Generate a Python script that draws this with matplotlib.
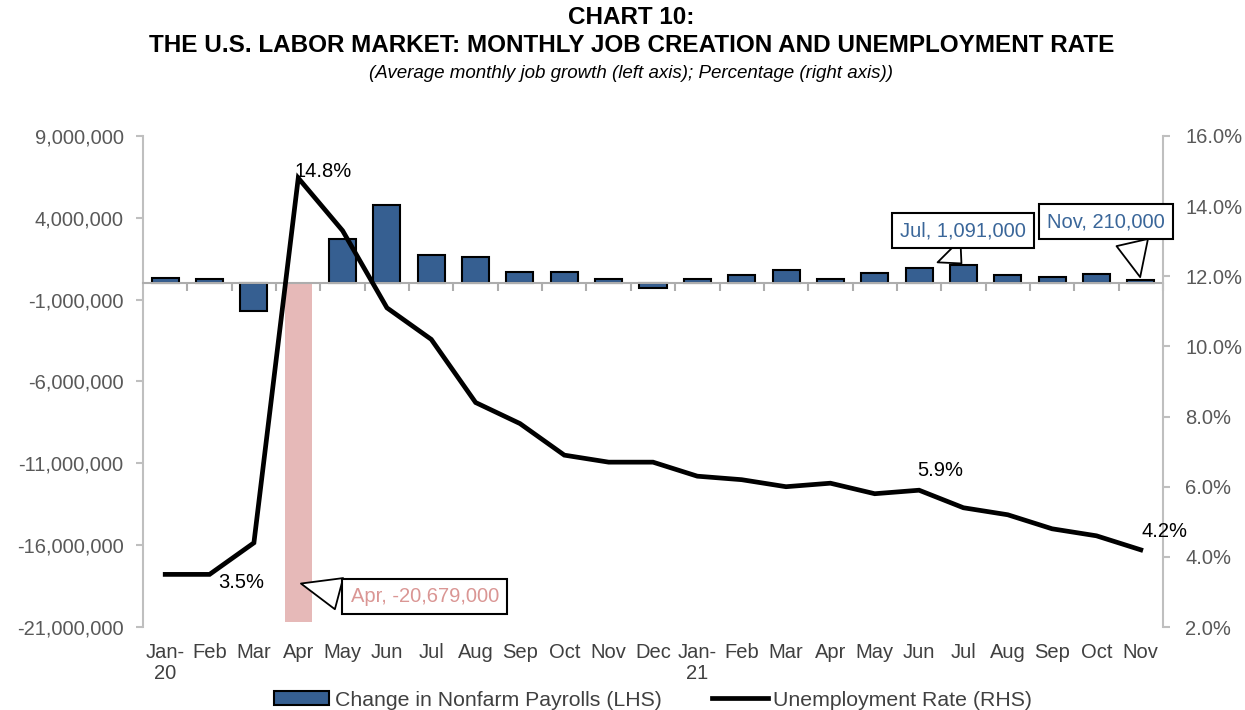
import matplotlib.pyplot as plt
import matplotlib.transforms as mtransforms
import numpy as np

plt.rcParams['font.family'] = ['Liberation Sans', 'DejaVu Sans']

# data
months = ["Jan-\n20", "Feb", "Mar", "Apr", "May", "Jun", "Jul", "Aug", "Sep", "Oct", "Nov", "Dec",
          "Jan-\n21", "Feb", "Mar", "Apr", "May", "Jun", "Jul", "Aug", "Sep", "Oct", "Nov"]
payrolls = [315000, 289000, -1683000, -20679000, 2725000, 4781000, 1726000, 1583000, 716000,
            680000, 264000, -306000, 233000, 536000, 785000, 269000, 614000, 962000, 1091000,
            483000, 379000, 546000, 210000]
unemp = [3.5, 3.5, 4.4, 14.8, 13.3, 11.1, 10.2, 8.4, 7.8, 6.9, 6.7, 6.7,
         6.3, 6.2, 6.0, 6.1, 5.8, 5.9, 5.4, 5.2, 4.8, 4.6, 4.2]
left_ticks = [-21000000, -16000000, -11000000, -6000000, -1000000, 4000000, 9000000]
right_ticks = [2, 4, 6, 8, 10, 12, 14, 16]

BLUE = "#365F91"
PINK = "#E6B9B8"
GRAY = "#595959"
AXGRAY = "#BFBFBF"
FS = 14.5

fig = plt.figure(figsize=(12.45, 7.1), dpi=100)
ax1 = fig.add_axes([0.1149, 0.1169, 0.8192, 0.6916])
ax2 = ax1.twinx()

x = np.arange(len(months))
colors = [PINK if v < -10e6 else BLUE for v in payrolls]
edges = ["none" if v < -10e6 else "black" for v in payrolls]
bars = ax1.bar(x, payrolls, width=0.61, color=colors, edgecolor=edges, linewidth=1.5, zorder=3,
               label="Change in Nonfarm Payrolls (LHS)")
line, = ax2.plot(x, unemp, color="black", lw=3.4, solid_joinstyle="miter",
                 label="Unemployment Rate (RHS)")

ax1.set_xlim(-0.5, len(months) - 0.5)
ax1.set_ylim(-21e6, 9e6)
ax2.set_ylim(2, 16)
ax1.set_yticks(left_ticks)
ax1.set_yticklabels([f"{v:,}" for v in left_ticks])
ax2.set_yticks(right_ticks)
ax2.set_yticklabels([f"{v:.1f}%" for v in right_ticks])

for a in (ax1, ax2):
    a.spines["top"].set_visible(False)
for s in ("left", "right", "bottom"):
    ax1.spines[s].set_color(AXGRAY)
    ax2.spines[s].set_color(AXGRAY)
    ax1.spines[s].set_linewidth(1.5)
    ax2.spines[s].set_linewidth(1.5)
ax2.spines["bottom"].set_visible(False)
ax2.spines["left"].set_visible(False)
ax1.spines["right"].set_visible(False)
ax1.spines["bottom"].set_position(("data", 0))
ax1.spines["bottom"].set_color("#ADADAD")
ax1.spines["bottom"].set_zorder(4)

ax1.tick_params(axis="y", colors=AXGRAY, labelcolor=GRAY, labelsize=FS, length=5, width=1.5, pad=9)
ax2.tick_params(axis="y", colors=AXGRAY, labelcolor=GRAY, labelsize=FS, length=5, width=1.5, pad=11)
ax1.set_xticks(x)
ax1.set_xticklabels([])
ax1.tick_params(axis="x", which="major", length=0)
ax1.set_xticks(np.arange(-0.5, len(months), 1)[1:], minor=True)
ax1.tick_params(axis="x", which="minor", length=6, width=1.5, colors="#ADADAD", direction="out")

trans = mtransforms.blended_transform_factory(ax1.transData, ax1.transAxes)
for xi, lab in zip(x, months):
    ax1.text(xi, -0.033, lab, transform=trans, ha="center", va="top", fontsize=FS,
             color="#404040", multialignment="center", linespacing=1.15)

# rate labels
ax2.annotate("14.8%", (3, unemp[3]), xytext=(18, 5), textcoords="offset points",
             ha="center", va="center", fontsize=FS)
ax2.annotate("3.5%", (1, unemp[1]), xytext=(23, -6), textcoords="offset points",
             ha="center", va="center", fontsize=FS)
ax2.annotate("5.9%", (17, unemp[17]), xytext=(15, 14), textcoords="offset points",
             ha="center", va="center", fontsize=FS)
ax2.annotate("4.2%", (22, unemp[22]), xytext=(17, 13), textcoords="offset points",
             ha="center", va="center", fontsize=FS)

# callouts
box = dict(boxstyle="square,pad=0.4", fc="white", ec="black", lw=1.5)
def wedge(rx, ry):
    return dict(arrowstyle="wedge,tail_width=1.6,shrink_factor=0.5", fc="white", ec="black",
                lw=1.3, relpos=(rx, ry))
ax2.annotate("Jul, 1,091,000", (18, payrolls[18]), xycoords=ax1.transData, xytext=(0, 25),
             textcoords="offset points", ha="center", va="center", fontsize=FS, color="#3A6699",
             bbox=box, arrowprops=wedge(0.3, 0.0))
ax2.annotate("Nov, 210,000", (22, payrolls[22]), xycoords=ax1.transData, xytext=(-25, 42),
             textcoords="offset points", ha="center", va="center", fontsize=FS, color="#3A6699",
             bbox=box, arrowprops=wedge(0.7, 0.0))
ax2.annotate("Apr, -20,679,000", (3, payrolls[3] * 0.885), xycoords=ax1.transData, xytext=(91, -10),
             textcoords="offset points", ha="center", va="center", fontsize=FS, color="#DA9694",
             bbox=box, arrowprops=wedge(0.0, 0.5))

# titles
fig.text(0.507, 1 - 17 / 710, "CHART 10:", ha="center", va="center", fontsize=17.5, fontweight="bold")
fig.text(0.507, 1 - 46 / 710, "THE U.S. LABOR MARKET: MONTHLY JOB CREATION AND UNEMPLOYMENT RATE",
         ha="center", va="center", fontsize=17.5, fontweight="bold")
fig.text(0.507, 1 - 73 / 710, "(Average monthly job growth (left axis); Percentage (right axis))",
         ha="center", va="center", fontsize=13.5, style="italic")

leg_bar = plt.Rectangle((0, 0), 1, 1, fc=BLUE, ec="black", lw=1.5)
fig.legend([leg_bar, line], ["Change in Nonfarm Payrolls (LHS)", "Unemployment Rate (RHS)"],
           loc="center", bbox_to_anchor=(0.5245, 10 / 710), ncol=2, frameon=False, fontsize=15.3,
           handlelength=2.6, handleheight=0.6, handletextpad=0.25, columnspacing=2.4,
           labelcolor="#404040")

fig.savefig("out.png", dpi=100)
